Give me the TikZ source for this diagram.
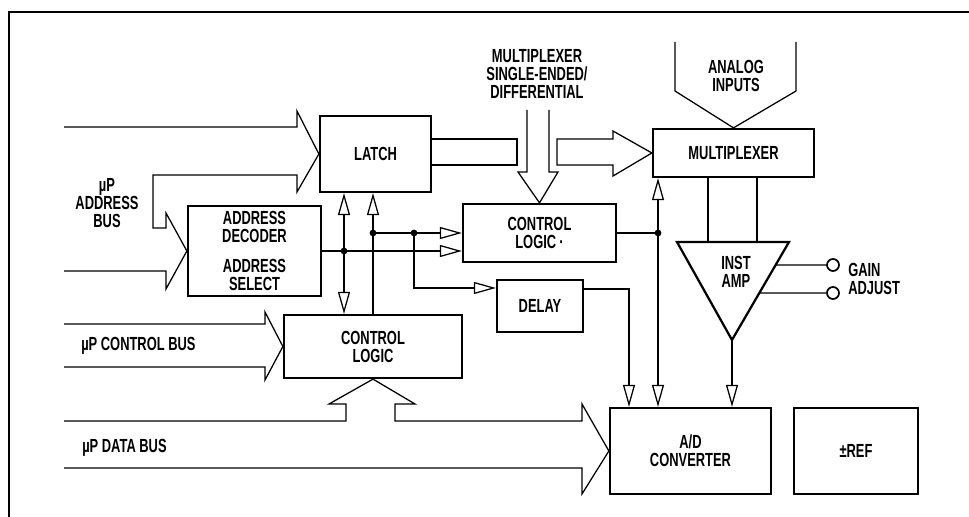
\documentclass[tikz,border=0pt]{standalone}
\usepackage{fontspec}
\setmainfont{Liberation Sans}[FakeStretch=0.68]
\usetikzlibrary{arrows.meta,calc}
\tikzset{
  txt/.style={font=\fontsize{13.5}{12.8}\selectfont\bfseries},
  blk/.style 2 args={draw, line width=1.6pt, txt, align=center, inner sep=0pt,
    minimum width=#1*0.025cm, minimum height=#2*0.025cm},
  lbl/.style={txt, align=center, inner sep=0pt},
  sig/.style={line width=0.9pt},
  bus/.style={line width=0.9pt, line join=miter},
  tri/.style={-{Triangle[open,length=0.55cm,width=0.3cm]}},
  border/.style={line width=1.6pt},
}
\begin{document}
\begin{tikzpicture}[x=0.025cm, y=-0.025cm]
  \useasboundingbox (0,0) rectangle (969,517);
  \draw[border] (9,517) -- (9,12) -- (969,12);

  % blocks
  \node[blk={111}{76}] (latch) at (375.5,154) {LATCH};
  \node[blk={133}{90}] (dec) at (254.5,251) {ADDRESS\\DECODER\\[8pt]ADDRESS\\SELECT};
  \node[blk={178}{63}] (ctlA) at (373,346.5) {CONTROL\\LOGIC};
  \node[blk={153}{58}] (ctlB) at (539.5,233) {CONTROL\\LOGIC\,·};
  \node[blk={86}{52}] (delay) at (540,306) {DELAY};
  \node[blk={161}{48}] (mux) at (733.5,153) {MULTIPLEXER};
  \node[blk={161}{86}] (adc) at (690.5,451) {A/D\\CONVERTER};
  \node[blk={124}{86}] (ref) at (856,451) {±REF};

  % inst amp
  \coordinate (ampTL) at (677,242);
  \coordinate (ampTR) at (789,242);
  \coordinate (ampB) at (732,340);
  \draw[line width=1.6pt, line join=miter] (ampTL) -- (ampTR) -- (ampB) -- cycle;
  \node[lbl] (amp) at (736,272) {INST\\AMP};
  \node[draw, circle, line width=1.2pt, minimum size=0.3cm, inner sep=0pt] (g1) at (833,265) {};
  \node[draw, circle, line width=1.2pt, minimum size=0.3cm, inner sep=0pt] (g2) at (833,293) {};
  \node[lbl, align=left, anchor=west] (gain) at (848,279) {GAIN\\ADJUST};
  \draw[sig] ($(ampTR)!0.235!(ampB)$) -- (g1.west);
  \draw[sig] ($(ampTR)!0.52!(ampB)$) -- (g2.west);

  % bus arrows
  \draw[bus] (64,127) -- (297,127) -- (297,111) -- (latch.west) -- (297,192) -- (297,175)
    -- (153,175) -- (153,228) -- (166,228) -- (166,213) -- (dec.west) -- (166,289)
    -- (166,271) -- (64,271);
  \node[lbl] (abus) at (107,203) {µP\\ADDRESS\\BUS};
  \draw[bus] (64,324) -- (265,324) -- (265,312) -- (ctlA.west) -- (265,380) -- (265,367) -- (64,367);
  \node[lbl, anchor=west] (cbus) at (81,346) {µP CONTROL BUS};
  \draw[bus] (64,421) -- (346,421) -- (346,404) -- (329,404) -- (ctlA.south) -- (415,404)
    -- (395,404) -- (395,421) -- (582,421) -- (582,404) -- (adc.west) -- (582,494)
    -- (582,468) -- (64,468);
  \node[lbl, anchor=west] (dbus) at (82,448) {µP DATA BUS};
  \draw[bus] (675,42) -- (675,91) -- (mux.north) -- (796,91) -- (796,42);
  \node[lbl] (ain) at (736,76) {ANALOG\\INPUTS};
  \draw[bus] (527,110) -- (527,172) -- (518,172) -- (ctlB.north) -- (558,172) -- (549,172) -- (549,110);
  \node[lbl] (sel) at (537,74) {MULTIPLEXER\\SINGLE-ENDED/\\DIFFERENTIAL};
  \draw[bus] (latch.east |- 0,139) -- (517,139) -- (517,165) -- (latch.east |- 0,165);
  \draw[bus] (557,139) -- (613,139) -- (613,131) -- (mux.west) -- (613,176) -- (613,165) -- (557,165) -- cycle;

  % control signals
  \coordinate (j1) at (344,251);
  \coordinate (j2) at (373,233);
  \coordinate (j3) at (414,233);
  \coordinate (j4) at (658,233);
  \draw[sig,tri] (dec.east) -- (dec.east -| ctlB.west);
  \draw[sig,tri] (j1) -- (j1 |- latch.south);
  \draw[sig,tri] (j1) -- (j1 |- ctlA.north);
  \draw[sig,tri] (j2 |- ctlA.north) -- (j2 |- latch.south);
  \draw[sig,tri] (j2) -- (j2 -| ctlB.west);
  \draw[sig,tri] (j3) |- (delay.west |- 0,288);
  \draw[sig] (ctlB.east |- j4) -- (j4);
  \draw[sig,tri] (j4) -- (j4 |- mux.south);
  \draw[sig,tri] (j4) -- (j4 |- adc.north);
  \draw[sig,tri] (delay.east |- 0,289) -| (629,0 |- adc.north);
  \draw[sig,tri] (ampB) -- (ampB |- adc.north);
  \draw[sig] (mux.south -| 708,0) -- (708,0 |- ampTL);
  \draw[sig] (mux.south -| 757,0) -- (757,0 |- ampTL);
  \foreach \j in {j1,j2,j3,j4} {
    \fill (\j) circle (2.4pt);
  }
\end{tikzpicture}
\end{document}
